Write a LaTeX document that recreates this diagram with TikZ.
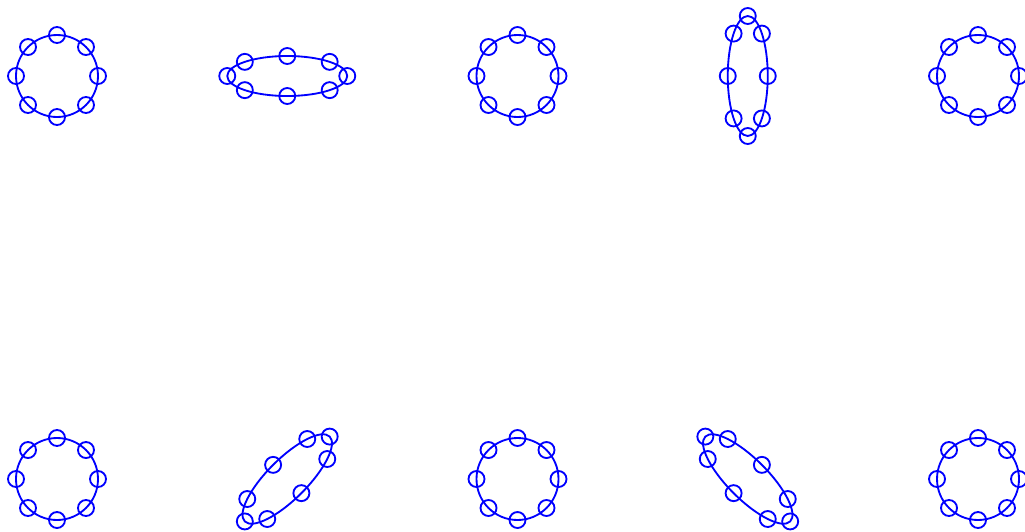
\documentclass[tikz,border=0pt]{standalone}
\usepackage{tikz}
\definecolor{ringBlue}{RGB}{0,0,255}

\begin{document}
\begin{tikzpicture}[
  ring/.style={draw=ringBlue, line width=1.05pt},
  bead/.style={circle, draw=ringBlue, line width=1.05pt, inner sep=0pt, minimum size=0.32cm}
]
  \useasboundingbox (0,0) rectangle (20.5,-10.62);
  % one ring per cell: index / row y / x radius / y radius / rotation
  \foreach \i/\y/\rx/\ry/\rot in {
    1/-1.52/0.82/0.82/0,
    2/-1.52/1.2/0.4/0,
    3/-1.52/0.82/0.82/0,
    4/-1.52/1.2/0.4/90,
    5/-1.52/0.82/0.82/0,
    6/-9.58/0.82/0.82/0,
    7/-9.58/1.2/0.4/45,
    8/-9.58/0.82/0.82/0,
    9/-9.58/1.2/0.4/135,
    10/-9.58/0.82/0.82/0%
  } {
    \pgfmathsetmacro{\x}{1.14+mod(\i-1,5)*4.605}
    \begin{scope}[shift={(\x,\y)}, rotate=\rot]
      \draw[ring] (0,0) ellipse [x radius=\rx, y radius=\ry];
      \foreach \k in {0,...,7} {
        \node[bead] (b\i-\k) at ({\rx*cos(\k*45)}, {\ry*sin(\k*45)}) {};
      }
    \end{scope}
  }
\end{tikzpicture}
\end{document}
